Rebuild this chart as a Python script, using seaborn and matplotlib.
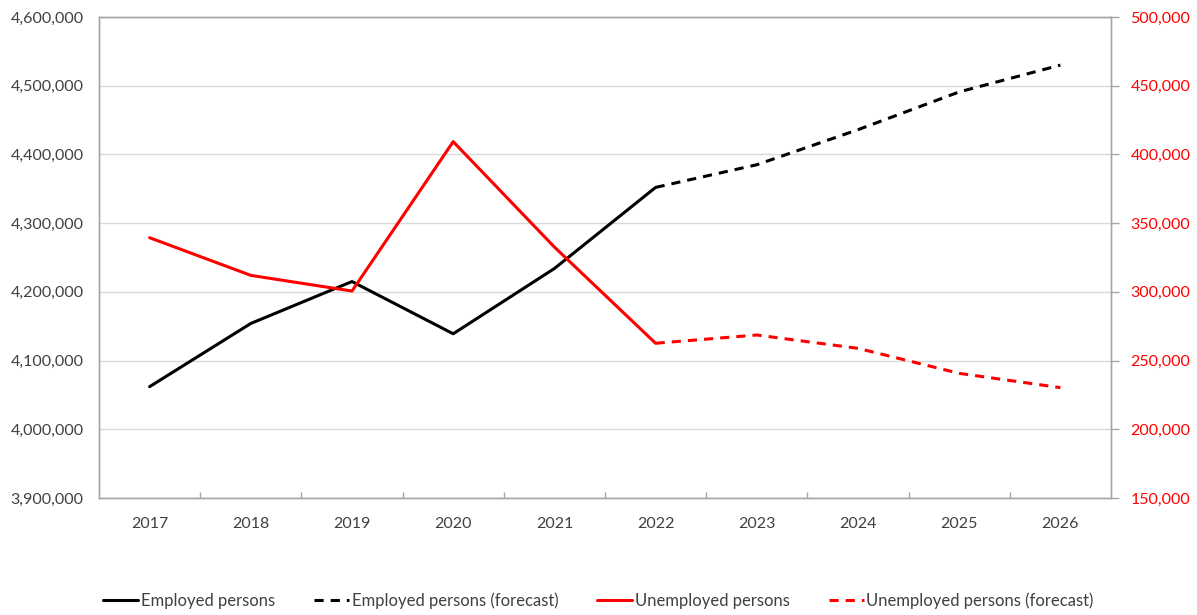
import matplotlib
matplotlib.use("Agg")
import matplotlib.pyplot as plt
from matplotlib.ticker import FuncFormatter, FixedLocator
import pandas as pd
import seaborn as sns

# Labour market series (persons), actuals to 2022 and forecast from 2022 on
years = [2017, 2018, 2019, 2020, 2021, 2022, 2023, 2024, 2025, 2026]
actual_years = [2017, 2018, 2019, 2020, 2021, 2022]
forecast_years = [2022, 2023, 2024, 2025, 2026]

employed = [4062000, 4154000, 4215000, 4139000, 4234000, 4352000]
employed_forecast = [4352000, 4385000, 4436000, 4491000, 4530000]
unemployed = [339400, 312000, 300600, 409300, 332600, 262600]
unemployed_forecast = [262600, 268600, 258900, 240700, 230300]

left_ticks = [3900000, 4000000, 4100000, 4200000, 4300000, 4400000, 4500000, 4600000]
right_ticks = [150000, 200000, 250000, 300000, 350000, 400000, 450000, 500000]

labels = ["Employed persons", "Employed persons (forecast)",
          "Unemployed persons", "Unemployed persons (forecast)"]

sns.set_theme(style="white")
plt.rcParams["font.family"] = ["Lato", "DejaVu Sans"]

emp_df = pd.DataFrame({"year": actual_years, "value": employed})
emp_fc_df = pd.DataFrame({"year": forecast_years, "value": employed_forecast})
unemp_df = pd.DataFrame({"year": actual_years, "value": unemployed})
unemp_fc_df = pd.DataFrame({"year": forecast_years, "value": unemployed_forecast})

W, H = 1197, 615
fig = plt.figure(figsize=(W / 100, H / 100), dpi=100)
ax = fig.add_axes([99 / W, 1 - 498 / H, (1111 - 99) / W, (498 - 17) / H])
ax2 = ax.twinx()

lw = 2.2
dash = (0, (3.0, 2.3))
red = "#FF0000"
axis_grey = "#A6A6A6"
text_grey = "#404040"

sns.lineplot(data=emp_df, x="year", y="value", ax=ax, color="black", lw=lw)
sns.lineplot(data=emp_fc_df, x="year", y="value", ax=ax, color="black", lw=lw)
ax.lines[-1].set_linestyle(dash)
sns.lineplot(data=unemp_df, x="year", y="value", ax=ax2, color=red, lw=lw)
sns.lineplot(data=unemp_fc_df, x="year", y="value", ax=ax2, color=red, lw=lw)
ax2.lines[-1].set_linestyle(dash)

handles = [ax.lines[0], ax.lines[1], ax2.lines[0], ax2.lines[1]]

# Axes ranges and grid
ax.set_xlim(years[0] - 0.5, years[-1] + 0.5)
ax.set_ylim(left_ticks[0], left_ticks[-1])
ax2.set_ylim(right_ticks[0], right_ticks[-1])
ax.set_yticks(left_ticks)
ax2.set_yticks(right_ticks)
ax.set_xticks(years)
ax.xaxis.set_minor_locator(FixedLocator([y + 0.5 for y in years[:-1]]))
ax.yaxis.grid(True, color="#D9D9D9", lw=1.0)
ax.set_axisbelow(True)

fmt = FuncFormatter(lambda v, p: f"{int(v):,}")
ax.yaxis.set_major_formatter(fmt)
ax2.yaxis.set_major_formatter(fmt)

ax.set_xlabel("")
ax.set_ylabel("")
ax2.set_ylabel("")

for a in (ax, ax2):
    for s in a.spines.values():
        s.set_color(axis_grey)
        s.set_linewidth(1.0)

ax.tick_params(axis="y", which="major", length=0, pad=11, labelsize=11.5, labelcolor=text_grey)
ax.tick_params(axis="x", which="major", length=0, pad=14, labelsize=11.5, labelcolor=text_grey)
ax.tick_params(axis="x", which="minor", direction="in", length=4, width=1, color=axis_grey, bottom=True)
ax2.tick_params(axis="y", which="major", direction="out", length=6, width=1, color=axis_grey,
                pad=8, labelsize=11.5, labelcolor=red)

fig.legend(handles, labels, loc="center", bbox_to_anchor=(0.5, 1 - 601 / H), ncol=4,
           frameon=False, fontsize=12, handlelength=2.1, handletextpad=0.15,
           columnspacing=2.35, labelcolor=text_grey)

fig.savefig("out.png", dpi=100, facecolor="white")
